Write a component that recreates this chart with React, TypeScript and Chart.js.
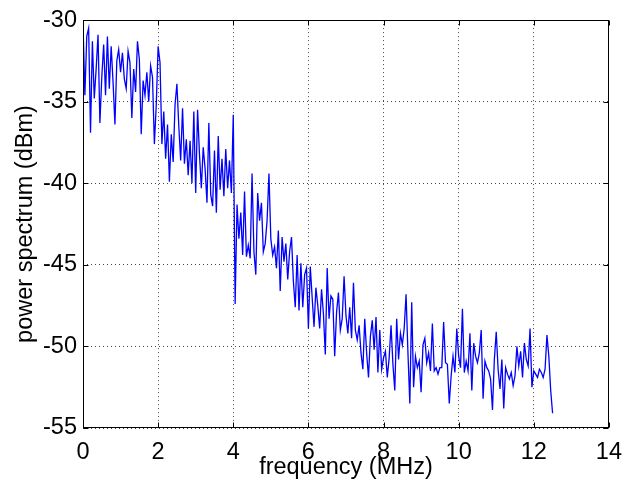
import React, { useEffect, useRef } from "react";
import { Chart, registerables } from "chart.js";

Chart.register(...registerables);

// Frequency bins are evenly spaced: 0.00, 0.05, ... 12.50 MHz
const FREQ_STEP_MHZ = 0.05;

// Power spectrum values (dBm), split by band
// 0.00 – 2.45 MHz
const powerBand1 = [
  -30.2, -34.6, -31.0, -30.5, -36.9, -31.3, -34.8, -33.0, -30.9, -36.3,
  -33.5, -31.5, -34.6, -31.0, -34.2, -31.6, -33.8, -36.4, -32.5, -31.8,
  -33.2, -32.0, -33.6, -34.2, -31.9, -32.6, -36.0, -33.0, -34.4, -31.3,
  -32.4, -37.0, -33.7, -34.6, -33.2, -35.0, -32.8, -33.5, -37.6, -35.2,
  -31.6, -32.6, -37.6, -35.6, -38.5, -36.4, -39.9, -37.0, -38.7, -35.2,
];
// 2.50 – 4.95 MHz
const powerBand2 = [
  -33.9, -36.5, -38.6, -35.4, -38.8, -37.3, -39.5, -37.4, -40.0, -35.6,
  -40.6, -35.5, -38.2, -40.3, -37.8, -39.1, -41.2, -36.3, -40.7, -41.4,
  -38.0, -41.8, -37.1, -40.4, -38.5, -40.8, -37.9, -40.3, -38.6, -40.6,
  -35.8, -47.4, -41.3, -43.4, -41.8, -44.4, -40.5, -44.5, -43.8, -44.6,
  -39.4, -44.2, -45.6, -40.6, -42.3, -41.2, -44.2, -43.7, -42.3, -39.4,
];
// 5.00 – 7.45 MHz
const powerBand3 = [
  -43.4, -44.4, -43.9, -45.2, -42.9, -46.6, -43.3, -44.8, -43.7, -45.9,
  -44.2, -43.3, -46.0, -47.6, -44.4, -47.8, -44.9, -47.6, -45.6, -45.2,
  -48.9, -45.1, -47.0, -48.8, -46.4, -47.5, -48.9, -46.5, -48.0, -50.5,
  -45.2, -48.3, -46.9, -47.1, -50.6, -47.9, -46.7, -49.0, -48.3, -45.7,
  -48.1, -49.2, -47.6, -49.5, -46.1, -49.0, -49.6, -48.7, -50.4, -51.4,
];
// 7.50 – 9.95 MHz
const powerBand4 = [
  -48.3, -50.4, -51.9, -49.4, -48.4, -50.2, -48.2, -51.6, -49.0, -51.4,
  -50.7, -50.3, -51.9, -50.7, -48.7, -51.1, -52.7, -48.3, -50.8, -49.2,
  -49.9, -48.9, -46.8, -50.4, -53.5, -47.3, -52.5, -50.6, -51.3, -50.9,
  -52.8, -49.9, -49.5, -51.0, -50.4, -51.5, -48.6, -51.5, -51.3, -51.7,
  -51.3, -51.3, -48.5, -51.0, -51.1, -53.5, -51.8, -50.6, -51.6, -48.9,
];
// 10.00 – 12.50 MHz
const powerBand5 = [
  -50.6, -51.3, -47.7, -51.6, -50.9, -51.5, -49.2, -52.7, -49.8, -50.6,
  -51.0, -50.4, -49.0, -53.2, -50.9, -51.3, -51.5, -52.0, -53.9, -50.8,
  -49.1, -51.4, -52.6, -50.8, -53.8, -51.3, -51.7, -52.0, -51.6, -52.4,
  -51.8, -50.0, -51.2, -50.3, -51.9, -49.8, -50.8, -51.2, -48.9, -52.5,
  -51.5, -51.7, -51.9, -51.4, -51.6, -51.9, -51.4, -49.3, -50.6, -52.7,
  -54.1,
];

const xTicks = [0, 2, 4, 6, 8, 10, 12, 14];
const yTicks = [-55, -50, -45, -40, -35, -30];
const xLabel = "frequency (MHz)";
const yLabel = "power spectrum (dBm)";

const FONT = "'Liberation Sans', Arial, Helvetica, sans-serif";
const FONT_SIZE = 23.5;

const powerDbm = [
  ...powerBand1,
  ...powerBand2,
  ...powerBand3,
  ...powerBand4,
  ...powerBand5,
];
const points = powerDbm.map((y, i) => ({
  x: Math.round(i * FREQ_STEP_MHZ * 100) / 100,
  y,
}));

const matlabBox = {
  id: "matlabBox",
  afterDraw(chart: any) {
    const { ctx, chartArea, scales } = chart;
    const l = Math.round(chartArea.left) + 0.5;
    const r = Math.round(chartArea.right) - 0.5;
    const t = Math.round(chartArea.top) + 0.5;
    const b = Math.round(chartArea.bottom) - 0.5;
    const len = 5;
    ctx.save();
    ctx.strokeStyle = "#000";
    ctx.lineWidth = 1;
    ctx.setLineDash([]);
    ctx.strokeRect(l, t, r - l, b - t);
    ctx.beginPath();
    xTicks.forEach((v) => {
      const px = Math.round(scales.x.getPixelForValue(v)) + 0.5;
      ctx.moveTo(px, b);
      ctx.lineTo(px, b - len);
      ctx.moveTo(px, t);
      ctx.lineTo(px, t + len);
    });
    yTicks.forEach((v) => {
      const py = Math.round(scales.y.getPixelForValue(v)) + 0.5;
      ctx.moveTo(l, py);
      ctx.lineTo(l + len, py);
      ctx.moveTo(r, py);
      ctx.lineTo(r - len, py);
    });
    ctx.stroke();
    ctx.restore();
  },
};

export default function App() {
  const canvasRef = useRef<HTMLCanvasElement | null>(null);

  useEffect(() => {
    const canvas = canvasRef.current;
    if (!canvas) return;
    const chart = new Chart(canvas, {
      type: "line",
      data: {
        datasets: [
          {
            data: points,
            borderColor: "#0000ff",
            borderWidth: 1.3,
            pointRadius: 0,
            tension: 0,
            fill: false,
          },
        ],
      },
      options: {
        responsive: false,
        animation: false,
        devicePixelRatio: 1,
        parsing: false,
        layout: { padding: { top: 13, right: 23, bottom: 0, left: 0 } },
        plugins: {
          legend: { display: false },
          tooltip: { enabled: false },
        },
        scales: {
          x: {
            type: "linear",
            min: 0,
            max: 14,
            afterBuildTicks: (s: any) => {
              s.ticks = xTicks.map((v) => ({ value: v }));
            },
            afterFit: (s: any) => {
              s.height = 56;
            },
            ticks: {
              color: "#000",
              font: { family: FONT, size: FONT_SIZE },
              padding: 10,
              maxRotation: 0,
              autoSkip: false,
            },
            grid: { color: "#444", lineWidth: 1, drawTicks: false },
            border: { display: false, dash: [1, 3] },
            title: {
              display: true,
              text: xLabel,
              color: "#000",
              font: { family: FONT, size: FONT_SIZE },
              padding: { top: 0, bottom: 2 },
            },
          },
          y: {
            type: "linear",
            min: -55,
            max: -30,
            afterBuildTicks: (s: any) => {
              s.ticks = yTicks.map((v) => ({ value: v }));
            },
            afterFit: (s: any) => {
              s.width = 83;
            },
            ticks: {
              color: "#000",
              font: { family: FONT, size: FONT_SIZE },
              padding: 6,
              autoSkip: false,
            },
            grid: { color: "#444", lineWidth: 1, drawTicks: false },
            border: { display: false, dash: [1, 3] },
            title: {
              display: true,
              text: yLabel,
              color: "#000",
              font: { family: FONT, size: FONT_SIZE },
              padding: { top: 11, bottom: 0 },
            },
          },
        },
      },
      plugins: [matlabBox],
    });
    return () => chart.destroy();
  }, []);

  return (
    <div style={{ position: "absolute", left: 0, top: 0, width: 632, height: 484, background: "#fff" }}>
      <canvas ref={canvasRef} width={632} height={484} style={{ display: "block" }} />
    </div>
  );
}
